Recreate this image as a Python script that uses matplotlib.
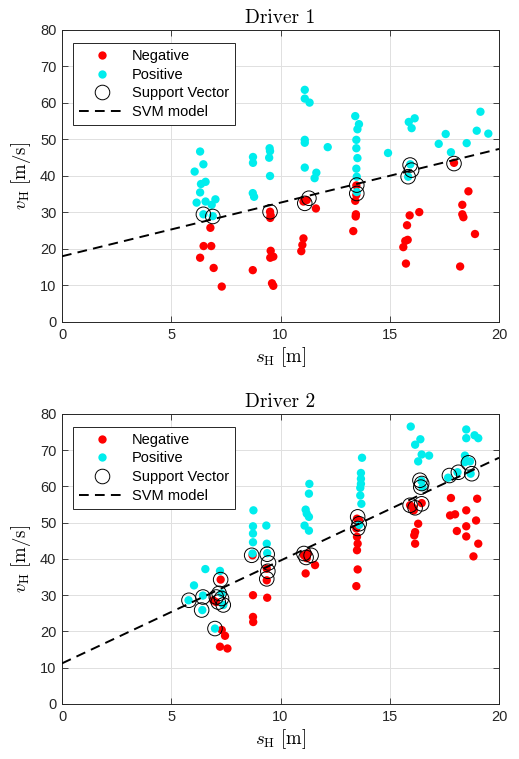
import numpy as np
import matplotlib
matplotlib.use("Agg")
import matplotlib.pyplot as plt
from matplotlib.lines import Line2D

plt.rcParams['mathtext.fontset'] = 'cm'
plt.rcParams['font.family'] = ['Liberation Sans', 'DejaVu Sans']

# ---- Driver 1 ----
d1_neg = [(6.32, 17.6), (6.48, 20.8), (6.83, 20.8), (6.79, 25.8), (6.94, 14.8), (7.31, 9.7), (8.73, 14.2),
          (9.52, 30.2), (9.55, 29.2), (9.53, 28.5), (9.55, 19.5), (9.53, 17.6), (9.67, 17.9), (9.61, 10.6), (9.67, 9.9),
          (11.05, 33.0), (11.2, 33.4), (11.62, 31.1), (11.05, 22.9), (11.0, 21.1), (10.95, 19.4),
          (13.47, 37.4), (13.47, 34.8), (13.42, 33.2), (13.45, 29.5), (13.44, 28.9), (13.33, 24.9),
          (15.91, 29.2), (15.79, 26.5), (16.35, 30.1), (15.82, 22.5), (15.71, 22.2), (15.62, 20.5), (15.74, 16.0),
          (17.94, 43.6), (18.6, 35.8), (18.32, 32.1), (18.32, 29.5), (18.37, 28.7), (18.9, 24.1), (18.22, 15.2)]
d1_pos = [(6.32, 46.7), (6.47, 43.2), (6.07, 41.2), (6.57, 38.4), (6.36, 37.8), (6.32, 35.5), (6.16, 32.7),
          (6.57, 33.0), (6.85, 32.1), (7.02, 33.6), (6.47, 29.5), (6.9, 29.0),
          (8.74, 45.2), (8.74, 43.6), (8.73, 35.3), (8.79, 34.3),
          (9.5, 47.6), (9.52, 46.8), (9.48, 45.0), (9.52, 40.0),
          (11.11, 63.6), (11.11, 61.2), (11.33, 60.1), (11.11, 49.9), (11.11, 49.1), (12.16, 47.9),
          (11.11, 42.3), (11.64, 40.9), (11.56, 39.4),
          (13.42, 56.4), (13.59, 54.2), (13.52, 52.8), (13.47, 49.9), (13.47, 47.6), (13.52, 44.9),
          (13.47, 42.0), (13.49, 39.8), (13.49, 35.6),
          (14.92, 46.3), (15.87, 54.8), (16.14, 55.8), (16.0, 53.1), (15.94, 43.2), (15.84, 39.8),
          (17.24, 48.8), (17.56, 51.5), (17.8, 46.5), (18.52, 49.0), (18.98, 52.4), (19.15, 57.6), (19.51, 51.6)]
d1_sv = [(6.47, 29.5), (6.9, 28.9), (9.52, 30.2), (11.3, 33.9), (11.11, 32.5), (13.49, 37.5), (13.49, 35.2),
         (15.93, 43.0), (16.0, 41.6), (15.84, 39.8), (17.94, 43.4)]
d1_line = (18.0, 1.47)   # intercept, slope of the SVM boundary

# ---- Driver 2 ----
d2_neg = [(7.26, 34.3), (6.92, 28.6), (7.05, 28.1), (7.31, 20.4), (7.46, 18.8), (7.23, 15.8), (7.57, 15.3),
          (8.72, 41.0), (8.74, 30.0), (8.74, 24.0), (8.75, 22.6), (9.39, 29.3), (9.37, 37.3), (9.37, 34.1),
          (11.07, 41.0), (11.25, 41.5), (11.2, 40.2), (11.58, 38.3), (11.15, 36.0),
          (13.5, 51.1), (13.6, 50.6), (13.47, 48.4), (13.5, 46.1), (13.53, 44.2), (13.5, 42.4), (13.53, 37.1), (13.47, 32.5),
          (15.93, 54.8), (16.07, 54.1), (16.1, 53.4), (16.46, 55.4), (16.3, 49.7), (16.16, 47.4), (16.12, 46.5), (16.16, 44.2),
          (17.8, 56.8), (17.76, 52.0), (17.99, 52.3), (18.5, 53.4), (19.0, 56.6), (18.95, 50.6), (18.5, 49.0),
          (18.07, 47.7), (18.5, 46.2), (19.05, 44.2), (18.83, 40.7)]
d2_pos = [(6.56, 37.2), (7.23, 36.7), (6.04, 32.7), (5.79, 28.6), (6.45, 29.9), (6.42, 25.9), (7.3, 30.5),
          (7.38, 27.3), (7.0, 20.8),
          (8.76, 53.4), (8.74, 49.0), (8.74, 47.0), (8.74, 44.6), (8.72, 41.5), (9.35, 49.2), (9.37, 44.2), (9.39, 41.6),
          (11.32, 60.7), (11.3, 58.0), (11.15, 53.6), (11.2, 52.5), (11.3, 51.6), (11.1, 49.2), (11.3, 47.8),
          (13.73, 67.9), (13.68, 63.7), (13.68, 62.1), (13.68, 60.7), (13.65, 59.6), (13.65, 57.5), (13.7, 55.2), (13.6, 49.4),
          (15.96, 76.5), (16.16, 71.5), (16.4, 73.0), (16.46, 68.8), (16.8, 68.5), (16.3, 66.9), (16.45, 61.5), (16.5, 59.8),
          (18.5, 75.7), (18.5, 73.3), (18.88, 74.1), (19.05, 73.3), (18.44, 68.5), (18.44, 66.7), (18.67, 66.9),
          (18.1, 63.9), (18.7, 63.5), (17.67, 62.4)]
d2_sv = [(5.81, 28.6), (6.45, 29.5), (6.39, 25.9), (7.0, 20.8), (7.26, 34.3), (7.06, 29.5), (7.19, 30.5),
         (7.3, 29.1), (7.15, 28.1), (7.38, 27.3),
         (8.68, 41.0), (9.39, 41.3), (9.45, 38.9), (9.42, 36.6), (9.37, 34.5),
         (11.07, 41.5), (11.4, 41.0), (11.17, 40.4),
         (13.53, 51.6), (13.6, 49.7), (13.53, 48.4),
         (16.38, 61.7), (16.46, 60.8), (16.42, 59.8), (15.93, 54.8), (16.16, 54.1), (16.46, 55.2),
         (17.73, 63.0), (18.14, 63.9), (18.6, 66.5), (18.75, 63.5)]
d2_line = (11.2, 2.835)

titles = ["Driver 1", "Driver 2"]
legend_labels = ["Negative", "Positive", "Support Vector", "SVM model"]
x_ticks = [0, 5, 10, 15, 20]
y_ticks = [0, 10, 20, 30, 40, 50, 60, 70, 80]

RED = (1.0, 0.0, 0.0)
CYAN = (0.0, 0.93, 0.93)
DARK = (0.15, 0.15, 0.15)

fig = plt.figure(figsize=(5.19, 7.59), dpi=100)
positions = [[0.1195, 0.5758, 0.842, 0.3847], [0.1195, 0.0725, 0.842, 0.3822]]


def draw(ax, neg, pos, sv, line, title):
    neg = np.array(neg)
    pos = np.array(pos)
    sv = np.array(sv)
    ax.scatter(neg[:, 0], neg[:, 1], s=36, color=RED, edgecolors='none', zorder=3)
    ax.scatter(pos[:, 0], pos[:, 1], s=36, color=CYAN, edgecolors='none', zorder=3)
    ax.scatter(sv[:, 0], sv[:, 1], s=110, facecolors='none', edgecolors='black', linewidths=0.7, zorder=4)
    xs = np.array([0, 20])
    ax.plot(xs, line[0] + line[1] * xs, color='black', lw=1.4, dashes=(5, 3.2), zorder=5)

    ax.set_xlim(0, 20)
    ax.set_ylim(0, 80)
    ax.set_xticks(x_ticks)
    ax.set_yticks(y_ticks)
    ax.grid(True, color=(0.88, 0.88, 0.88), lw=0.7)
    ax.set_axisbelow(True)
    ax.tick_params(direction='in', top=True, right=True, length=4, width=0.6,
                   colors=DARK, labelsize=10.5, labelcolor=DARK, pad=4)
    for sp in ax.spines.values():
        sp.set_color(DARK)
        sp.set_linewidth(0.7)
    ax.set_title(title, fontname='cmr10', fontsize=14, color='black', pad=5)
    ax.set_xlabel(r'$s_{\mathrm{H}}\ \mathrm{[m]}$', fontsize=13.5, labelpad=3)
    ax.set_ylabel(r'$v_{\mathrm{H}}\ \mathrm{[m/s]}$', fontsize=13.5, labelpad=5)

    handles = [
        Line2D([], [], ls='none', marker='o', ms=6, mfc=RED, mec='none'),
        Line2D([], [], ls='none', marker='o', ms=6, mfc=CYAN, mec='none'),
        Line2D([], [], ls='none', marker='o', ms=10.5, mfc='none', mec='black', mew=0.7),
        Line2D([], [], color='black', lw=1.4, dashes=(5, 3.2)),
    ]
    leg = ax.legend(handles, legend_labels, loc='upper left', bbox_to_anchor=(0.025, 0.955),
                    fontsize=10.5, frameon=True, fancybox=False, framealpha=1,
                    edgecolor=DARK, handlelength=3.2, handletextpad=0.45,
                    borderpad=0.4, labelspacing=0.32, borderaxespad=0.0)
    leg.get_frame().set_linewidth(0.7)


for pos_, (neg, pos, sv, line), title in zip(
        positions,
        [(d1_neg, d1_pos, d1_sv, d1_line), (d2_neg, d2_pos, d2_sv, d2_line)],
        titles):
    ax = fig.add_axes(pos_)
    draw(ax, neg, pos, sv, line, title)

fig.savefig("out.png", dpi=100)
